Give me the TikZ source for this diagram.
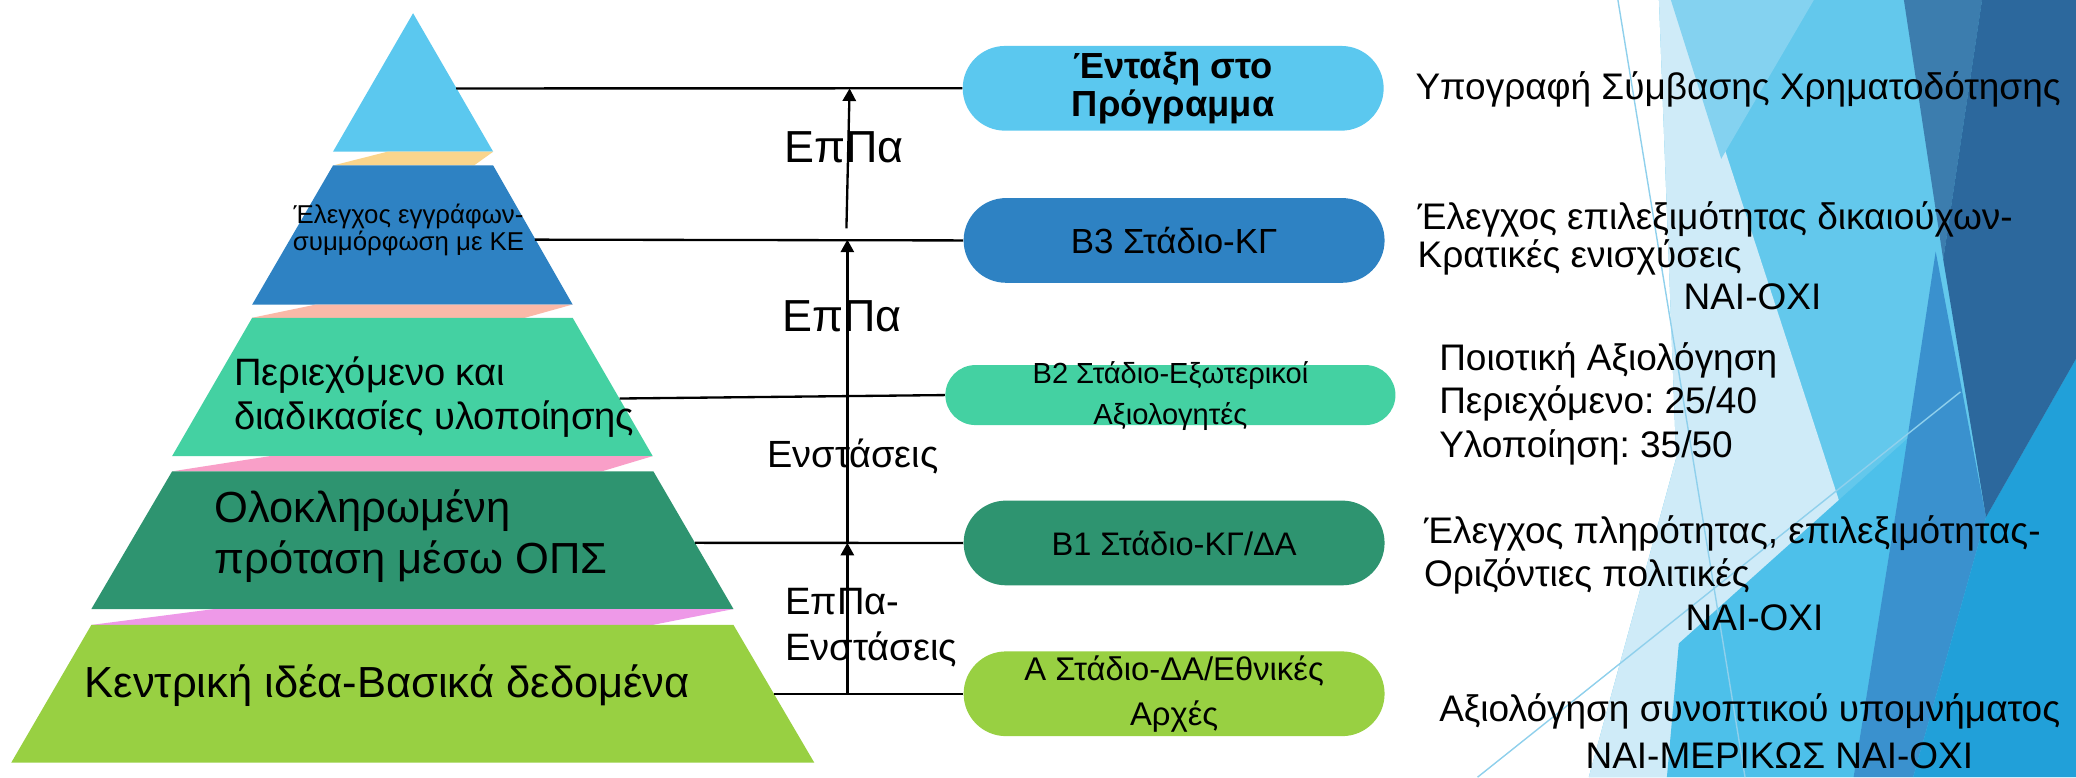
\documentclass[tikz,border=0pt]{standalone}
\usepackage{fontspec}
\setmainfont{Liberation Sans}
\frenchspacing
\usetikzlibrary{arrows.meta, shapes.misc}

\definecolor{topblue}{HTML}{5BC8EF}
\definecolor{ctlblue}{HTML}{2E82C3}
\definecolor{mint}{HTML}{44D1A2}
\definecolor{pine}{HTML}{2E9470}
\definecolor{ideagreen}{HTML}{98D042}
\definecolor{bandorange}{HTML}{FAD58C}
\definecolor{bandsalmon}{HTML}{FBB9A8}
\definecolor{bandpink}{HTML}{F99FC8}
\definecolor{bandviolet}{HTML}{EE99E8}
\definecolor{facetpale}{HTML}{CFEBF8}
\definecolor{facetlight}{HTML}{84D2F0}
\definecolor{facetmid}{HTML}{63C8EC}
\definecolor{facetcyan}{HTML}{4DC0EA}
\definecolor{facetdeep}{HTML}{21A0D9}
\definecolor{facetmed}{HTML}{3A91CE}
\definecolor{facetsteel}{HTML}{3C7DAE}
\definecolor{facetdark}{HTML}{2C689D}
\definecolor{facetline}{HTML}{8FD0EC}

\begin{document}
\begin{tikzpicture}[
    x=0.02cm, y=-0.02cm,
    box/.style={rounded rectangle, fill=#1, minimum width=6.36cm, minimum height=1.28cm, inner sep=0pt, align=center},
    link/.style={draw=black, line width=1pt},
    arrow/.style={-{Triangle[length=0.19cm, width=0.2cm]}, line width=1pt, draw=black},
    arrowtext/.style={font=\fontsize{16.3}{20}\selectfont, inner sep=0pt},
    layertext/.style={anchor=west, align=left, inner sep=0pt},
    note/.style={font=\fontsize{15.9}{18.5}\selectfont, align=left, anchor=west, inner sep=0pt},
    thinline/.style={draw=facetline, line width=0.6pt}
]
\useasboundingbox (0,0) rectangle (1568,587);
\fill[white] (0,0) rectangle (1568,587);

% Background facets
\fill[facetmid] (1253,0) -- (1568,0) -- (1568,587) -- (1200,587) -- (1266,346) -- cycle;
\fill[facetpale] (1253,0) -- (1266,0) -- (1397.7,404.9) -- (1259,587) -- (1200,587) -- (1266,346) -- cycle;
\fill[facetlight] (1262,0) -- (1370,0) -- (1300,120) -- cycle;
\fill[facetcyan] (1259,587) -- (1268,486) -- (1470,305) -- (1437,355) -- (1400,587) -- cycle;
\fill[facetmed] (1462,190) -- (1500,390.6) -- (1445,587) -- (1400,587) -- (1437,355) -- cycle;
\fill[facetdeep] (1500,390.6) -- (1568,271) -- (1568,587) -- (1445,587) -- cycle;
\fill[facetsteel] (1438,0) -- (1497,0) -- (1467.7,196) -- cycle;
\fill[facetdark] (1497,0) -- (1568,0) -- (1568,271) -- (1500,390.6) -- (1467.7,196) -- cycle;
\draw[thinline] (1222,0) -- (1318,587);
\draw[thinline] (1116,587) -- (1480.7,296);

% Pyramid
\fill[topblue] (312,10) -- (372.5,114.6) -- (251.5,114.6) -- cycle;
\fill[bandorange] (292.6,114.6) -- (372.5,114.6) -- (358,125) -- (251.5,125) -- cycle;
\fill[ctlblue] (251.5,125) -- (372.5,125) -- (432.5,230) -- (190.5,230) -- cycle;
\fill[bandsalmon] (238.7,230) -- (432.5,230) -- (396.6,240) -- (190.5,240) -- cycle;
\fill[mint] (190.5,240) -- (432.5,240) -- (493,344.5) -- (130,344.5) -- cycle;
\fill[bandpink] (204,344.5) -- (493,344.5) -- (454.6,356) -- (130,356) -- cycle;
\fill[pine] (130,356) -- (493.5,356) -- (554,460) -- (69,460) -- cycle;
\fill[bandviolet] (161.8,460) -- (554,460) -- (493,472) -- (69,472) -- cycle;
\fill[ideagreen] (69,472) -- (554,472) -- (615,576) -- (8.5,576) -- cycle;

\node[align=center, inner sep=0pt, font=\fontsize{11.1}{11.7}\selectfont] (docs) at (308.6,173.5) {Έλεγχος εγγράφων-\\συμμόρφωση με ΚΕ};
\node[layertext, font=\fontsize{16.4}{19.2}\selectfont] (content) at (176.5,300) {Περιεχόμενο και\\διαδικασίες υλοποίησης};
\node[layertext, font=\fontsize{18.7}{22}\selectfont] (proposal) at (161.8,405) {Ολοκληρωμένη\\πρόταση μέσω ΟΠΣ};
\node[layertext, font=\fontsize{18.7}{22}\selectfont] (idea) at (63.6,518) {Κεντρική ιδέα-Βασικά δεδομένα};

% Main components
\node[box=topblue, font=\bfseries\fontsize{15.6}{16.5}\selectfont] (entax) at (886.1,66.7) {Ένταξη στο\\Πρόγραμμα};
\node[box=ctlblue, font=\fontsize{15}{18}\selectfont] (bthree) at (886.8,181.6) {Β3 Στάδιο-ΚΓ};
\node[box=mint, minimum width=6.8cm, minimum height=0.906cm] (btwo) at (884,298.4) {};
\node[align=center, inner sep=0pt, font=\fontsize{12.5}{17.8}\selectfont] (btwotext) at (884,299) {Β2 Στάδιο-Εξωτερικοί\\Αξιολογητές};
\node[box=pine, font=\fontsize{14}{17}\selectfont] (bone) at (886.8,410.1) {Β1 Στάδιο-ΚΓ/ΔΑ};
\node[box=ideagreen, font=\fontsize{14.1}{19.2}\selectfont] (astage) at (886.8,524) {Α Στάδιο-ΔΑ/Εθνικές\\Αρχές};

% Links
\coordinate (tipedge) at (344.6,66.8);
\coordinate (checkedge) at (404,181);
\coordinate (contentedge) at (468,301);
\coordinate (proposaledge) at (525,410);
\coordinate (ideaedge) at (584.5,524);
\draw[link] (tipedge) -- (entax.west);
\draw[link] (checkedge) -- (bthree.west);
\draw[link] (contentedge) -- (btwo.west);
\draw[link] (proposaledge) -- (bone.west);
\draw[link] (ideaedge) -- (astage.west);

% Arrows
\coordinate (alevel) at (640,524);
\coordinate (bonelevel) at (640,410);
\coordinate (bthreelevel) at (640,181);
\coordinate (entaxstart) at (639.3,172.5);
\coordinate (entaxlevel) at (641.7,66.8);
\draw[arrow] (alevel) -- (bonelevel);
\draw[arrow] (bonelevel) -- (bthreelevel);
\draw[arrow] (entaxstart) -- (entaxlevel);

\node[arrowtext, font=\fontsize{19.3}{22}\selectfont] (epaone) at (637.5,111.5) {ΕπΠα};
\node[arrowtext, font=\fontsize{19.3}{22}\selectfont] (epatwo) at (635.8,238.6) {ΕπΠα};
\node[arrowtext] (objections) at (644.2,345) {Ενστάσεις};
\node[arrowtext, anchor=west, align=left, font=\fontsize{16.4}{19.9}\selectfont] (epaobjections) at (592.8,474) {ΕπΠα-\\Ενστάσεις};

% Notes
\node[note] (signing) at (1068.8,67.2) {Υπογραφή Σύμβασης Χρηματοδότησης};
\node[note, font=\fontsize{15.9}{16.3}\selectfont] (eligibility) at (1070.4,180) {Έλεγχος επιλεξιμότητας δικαιούχων-\\Κρατικές ενισχύσεις};
\node[note, anchor=center] (yesnoone) at (1323.6,224) {ΝΑΙ-ΟΧΙ};
\node[note, font=\fontsize{15.9}{18.8}\selectfont] (quality) at (1086.7,305) {Ποιοτική Αξιολόγηση\\Περιεχόμενο: 25/40\\Υλοποίηση: 35/50};
\node[note, font=\fontsize{15.9}{18.4}\selectfont] (completeness) at (1075.3,419) {Έλεγχος πληρότητας, επιλεξιμότητας-\\Οριζόντιες πολιτικές};
\node[note, anchor=center] (yesnotwo) at (1325.2,466.6) {ΝΑΙ-ΟΧΙ};
\node[note] (summary) at (1086.7,537.5) {Αξιολόγηση συνοπτικού υπομνήματος};
\node[note, anchor=center] (partial) at (1343.9,571) {ΝΑΙ-ΜΕΡΙΚΩΣ ΝΑΙ-ΟΧΙ};
\end{tikzpicture}
\end{document}
